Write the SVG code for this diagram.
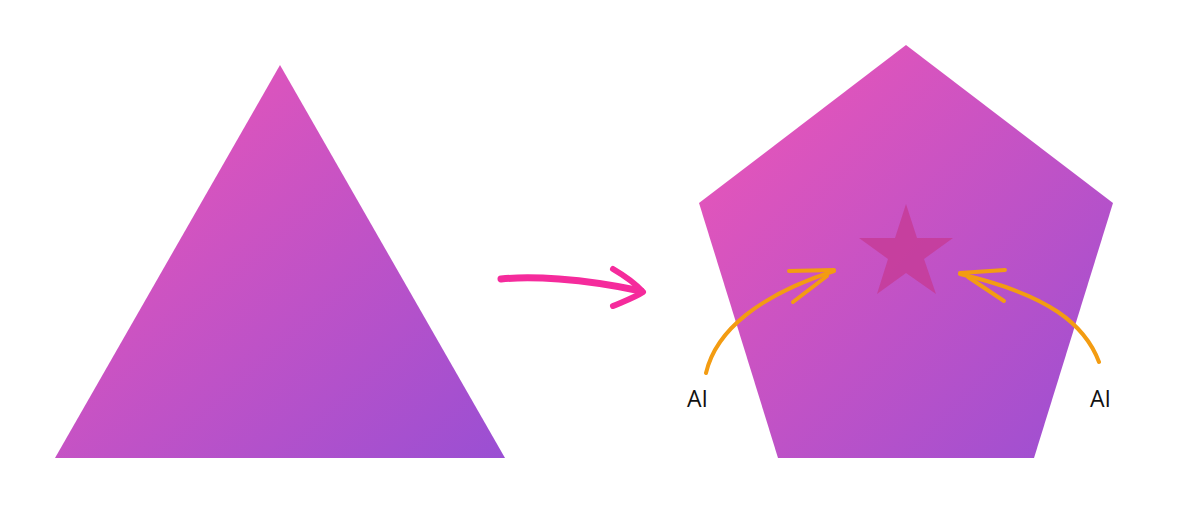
<svg xmlns="http://www.w3.org/2000/svg" width="1200" height="524" viewBox="0 0 1200 524">
<defs>
<linearGradient id="g" x1="0" y1="0" x2="1" y2="1">
<stop offset="0" stop-color="#f056b6"/>
<stop offset="1" stop-color="#9a4fd3"/>
</linearGradient>
<style>
.shape{fill:url(#g)}
.orange{fill:none;stroke:#f39c12;stroke-width:4;stroke-linecap:round;stroke-linejoin:round}
.lbl{font-family:"Open Sans","Noto Sans",sans-serif;font-size:23px;fill:#111}
</style>
</defs>
<rect width="1200" height="524" fill="#fff"/>
<g id="triangle">
<polygon class="shape" points="280,65 505,458 55,458"/>
</g>
<g id="pentagon">
<polygon class="shape" points="906,45 1113,203 1034,458 778,458 699,203"/>
<polygon points="906,204 917,238 953,238 924,259 936,294 906,273 877,294 888,259 859,238 895,238" fill="#c63c98" opacity="0.85"/>
</g>
<g id="label-left"><text class="lbl" x="687" y="407">AI</text></g>
<g id="label-right"><text class="lbl" x="1090" y="407">AI</text></g>
<g id="connectors">
<path d="M501,279 C530,276 580,278 641,291" fill="none" stroke="#f52b9c" stroke-width="7" stroke-linecap="round"/>
<path d="M613,269 C625,276 636,284 643,292 C634,298 622,302 613,306" fill="none" stroke="#f52b9c" stroke-width="6" stroke-linecap="round" stroke-linejoin="round"/>
<path class="orange" d="M706,373 C716,330 760,295 834,271"/>
<path class="orange" d="M789,271 L834,270 M793,302 L827,276"/>
<path class="orange" d="M1099,362 C1085,325 1050,295 960,274"/>
<path class="orange" d="M960,273 L1005,270 M1004,301 L968,277"/>
</g>
</svg>
